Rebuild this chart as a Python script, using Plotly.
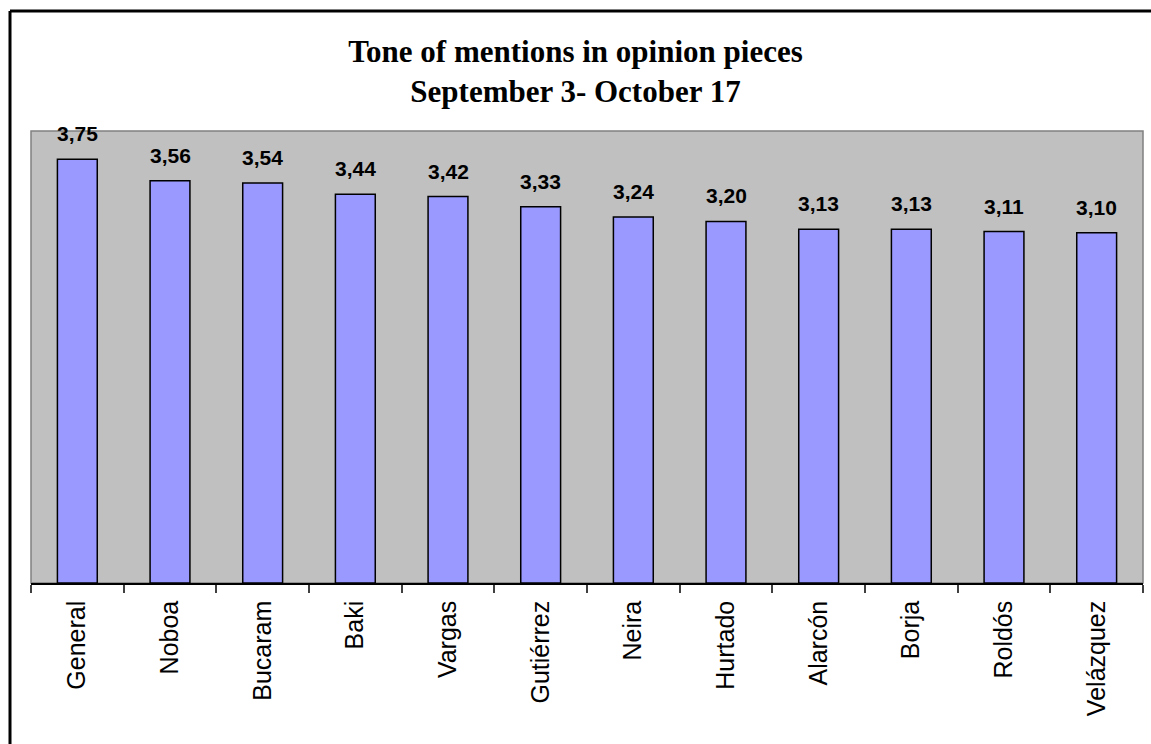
import plotly.graph_objects as go

# Tone scores by politician
names = ["General", "Noboa", "Bucaram", "Baki", "Vargas", "Gutiérrez",
         "Neira", "Hurtado", "Alarcón", "Borja", "Roldós", "Velázquez"]
tone = [3.75, 3.56, 3.54, 3.44, 3.42, 3.33, 3.24, 3.20, 3.13, 3.13, 3.11, 3.10]
value_labels = [f"{v:.2f}".replace(".", ",") for v in tone]

W, H = 1151, 744
L, R, T, B = 31, 8, 131, 161
pw, ph = W - L - R, H - T - B

fig = go.Figure()
fig.add_trace(go.Bar(
    x=names, y=tone,
    marker=dict(color="#9999FF", line=dict(color="#000000", width=1.5)),
    hoverinfo="skip",
))

# value labels sitting above each bar
for n, v, lab in zip(names, tone, value_labels):
    fig.add_annotation(
        x=n, y=v, text=f"<b>{lab}</b>", showarrow=False,
        yanchor="bottom", yshift=12,
        font=dict(family="Liberation Sans, Arial", size=21, color="#000000"),
    )

# outer frame (left and top edges)
fig.add_shape(type="line", xref="paper", yref="paper",
              x0=(10 - L) / pw, x1=(10 - L) / pw,
              y0=-0.5, y1=(ph + T - 11) / ph,
              line=dict(color="#000000", width=3))
fig.add_shape(type="line", xref="paper", yref="paper",
              x0=(10 - L) / pw, x1=(W - L + 5) / pw,
              y0=(ph + T - 11) / ph, y1=(ph + T - 11) / ph,
              line=dict(color="#000000", width=3))

# plot area border
fig.add_shape(type="rect", xref="paper", yref="paper",
              x0=0, x1=1, y0=0, y1=1,
              line=dict(color="#808080", width=1.5), layer="below")

fig.update_layout(
    width=W, height=H,
    margin=dict(l=L, r=R, t=T, b=B),
    paper_bgcolor="#FFFFFF",
    plot_bgcolor="#C0C0C0",
    bargap=0.57,
    showlegend=False,
    title=dict(
        text="<b>Tone of mentions in opinion pieces<br>September 3- October 17</b>",
        x=0.5, xref="container", xanchor="center",
        y=1 - 62 / H, yref="container", yanchor="top",
        font=dict(family="Liberation Serif, Times New Roman", size=31, color="#000000"),
    ),
    xaxis=dict(
        type="category",
        tickangle=-90,
        ticks="outside", tickson="boundaries", ticklen=8, tickcolor="#404040",
        tickwidth=1.5,
        showline=True, linecolor="#000000", linewidth=1.5,
        showgrid=False,
        ticklabelstandoff=6,
        tickfont=dict(family="Liberation Sans, Arial", size=25, color="#000000"),
    ),
    yaxis=dict(
        range=[0, 4], showticklabels=False, showgrid=False,
        zeroline=False, ticks="",
    ),
)

fig.write_html("out.html")
